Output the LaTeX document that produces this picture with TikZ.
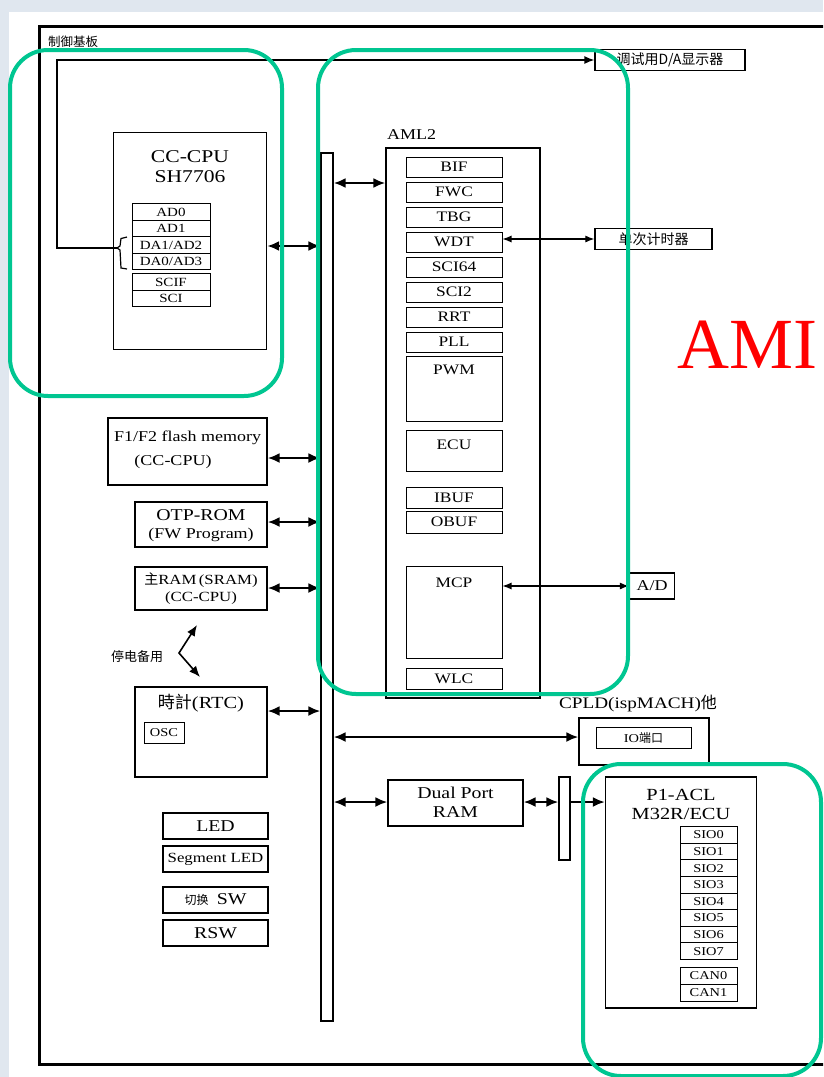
\documentclass[tikz,border=0pt]{standalone}
\usepackage{fontspec}
\setmainfont{Liberation Serif}[FakeStretch=1.2]
\newfontfamily\plainserif{Liberation Serif}
\newfontfamily\cjk{Noto Sans CJK SC}
\usetikzlibrary{arrows.meta}
\definecolor{hl}{RGB}{0,198,145}
\definecolor{bgc}{RGB}{224,231,239}
\newcommand\fz[1]{\fontsize{#1}{#1}\selectfont}
\begin{document}
\begin{tikzpicture}[x=1pt,y=-1pt,
  box/.style={draw, line width=1.3pt, inner sep=0pt, align=center},
  sb/.style={draw, line width=1pt, inner sep=0pt},
  txt/.style={inner sep=0pt, align=center},
  bus/.style={line width=2.2pt, {Latex[length=12pt,width=10pt]}-{Latex[length=12pt,width=10pt]}},
  thin/.style={line width=1.1pt, {Latex[length=9pt,width=7pt]}-{Latex[length=9pt,width=7pt]}},
  grp/.style={draw=hl, line width=4pt, rounded corners=38pt}]
\clip (0,0) rectangle (823,1077);
\useasboundingbox (0,0) rectangle (823,1077);
\fill[bgc] (0,0) rectangle (823,1077);
\fill[white] (9,12) rectangle (823,1077);
% outer frame
\draw[line width=3pt] (830,26) -- (39,26) -- (39,1064) -- (830,1064);
\node[txt, font=\cjk\fz{12.5}, anchor=west] (title) at (48,42) {制御基板};
% debug D/A box
\node[box, minimum width=150pt, minimum height=21pt, font=\cjk\fz{14}] (dbg) at (670,60) {调试用D/A显示器};
% CC-CPU
\node[box, minimum width=153pt, minimum height=217pt] (cpu) at (190,241) {};
\node[txt, font=\fz{18}] (cput1) at (190,157) {CC-CPU};
\node[txt, font=\fz{18}] (cput2) at (190,177) {SH7706};
\begin{scope}[every node/.style={sb, minimum width=78pt, minimum height=16.5pt, font=\fz{12.5}}]
\node (ad0) at (171,212) {AD0};
\node (ad1) at (171,228.5) {AD1};
\node (da1) at (171,245) {DA1/AD2};
\node (da0) at (171,261.5) {DA0/AD3};
\node (scif) at (171,282) {SCIF};
\node (sci) at (171,298.5) {SCI};
\end{scope}
% bracket and line to debug box
\draw[line width=1.2pt] (127,237) -- (121,238.5) -- (120,246) -- (117,248) -- (120,250) -- (121,268) -- (127,269);
\coordinate (brk) at (117,248);
\draw[line width=1.3pt, -{Latex[length=10pt,width=8pt]}] (brk) -- (57,248) -- (57,60) -- (dbg.west);
% main bus
\node[draw, line width=1.3pt, minimum width=12pt, minimum height=868pt, inner sep=0pt] (mbus) at (327,587) {};
\draw[bus] (cpu.east |- 0,246) -- (mbus.west |- 0,246);
% AML2
\node[txt, font=\fz{15}, anchor=west] (amllbl) at (387,135) {AML2};
\node[box, minimum width=154pt, minimum height=550pt] (aml) at (463,423) {};
\draw[bus] (mbus.east |- 0,183) -- (aml.west |- 0,183);
\begin{scope}[every node/.style={sb, minimum width=96pt, font=\fz{14.5}}]
\node[minimum height=20pt] (bif) at (454,167) {BIF};
\node[minimum height=20pt] (fwc) at (454,192) {FWC};
\node[minimum height=20pt] (tbg) at (454,217) {TBG};
\node[minimum height=20pt] (wdt) at (454,242) {WDT};
\node[minimum height=20pt] (sci64) at (454,267) {SCI64};
\node[minimum height=20pt] (sci2) at (454,292) {SCI2};
\node[minimum height=20pt] (rrt) at (454,317) {RRT};
\node[minimum height=20pt] (pll) at (454,342) {PLL};
\node[minimum height=65pt] (pwm) at (454,388.5) {};
\node[minimum height=41pt] (ecu) at (454,450.5) {};
\node[minimum height=21pt] (ibuf) at (454,498) {IBUF};
\node[minimum height=22pt] (obuf) at (454,522) {OBUF};
\node[minimum height=92pt] (mcp) at (454,612) {};
\node[minimum height=21pt] (wlc) at (454,679) {WLC};
\end{scope}
\node[txt, font=\fz{14.5}] (pwmt) at (454,370) {PWM};
\node[txt, font=\fz{14.5}] (ecut) at (454,445) {ECU};
\node[txt, font=\fz{14.5}] (mcpt) at (454,583) {MCP};
% single timer
\node[box, minimum width=117pt, minimum height=21pt, font=\cjk\fz{14}] (tmr) at (653.5,239) {单次计时器};
\draw[thin] (wdt.east |- 0,239) -- (tmr.west);
% A/D
\node[box, minimum width=45pt, minimum height=26pt, font=\fz{15}] (ad) at (652,586) {A/D};
\draw[thin] (mcp.east |- 0,586) -- (ad.west);
% memories
\node[box, minimum width=159pt, minimum height=67pt] (flash) at (187.5,451.5) {};
\node[txt, font=\fz{15}] (flt1) at (187.5,438) {F1/F2 flash memory};
\node[txt, font=\fz{15}] (flt2) at (173,462) {(CC-CPU)};
\draw[bus] (flash.east |- 0,458) -- (mbus.west |- 0,458);
\node[box, minimum width=132pt, minimum height=45pt] (otp) at (201,524.5) {};
\node[txt, font=\fz{16.5}] (otpt1) at (201,515) {OTP-ROM};
\node[txt, font=\fz{15}] (otpt2) at (201,535) {(FW Program)};
\draw[bus] (otp.east |- 0,522) -- (mbus.west |- 0,522);
\node[box, minimum width=132pt, minimum height=43pt] (ram) at (201,588.5) {};
\node[txt, font=\fz{14}] (ramt1) at (201,580) {{\cjk 主}RAM\,(SRAM)};
\node[txt, font=\fz{14}] (ramt2) at (201,598) {(CC-CPU)};
\draw[bus] (ram.east |- 0,588) -- (mbus.west |- 0,588);
% backup
\node[txt, font=\cjk\fz{13}] (bkp) at (137,657) {停电备用};
\coordinate (zt) at (197,625);
\coordinate (zc) at (179,653);
\coordinate (zb) at (200,677);
\draw[line width=1.6pt, {Latex[length=11pt,width=9pt]}-{Latex[length=11pt,width=9pt]}] (zt) -- (zc) -- (zb);
% RTC
\node[box, minimum width=132pt, minimum height=90pt] (rtc) at (201,732) {};
\node[txt, font=\fz{17}] (rtct) at (201,703) {{\cjk 時計}(RTC)};
\node[sb, minimum width=40pt, minimum height=21pt, font=\fz{12}] (osc) at (164,732.5) {OSC};
\draw[bus] (rtc.east |- 0,711) -- (mbus.west |- 0,711);
% CPLD
\node[txt, font=\fz{16}] (cpldt) at (638,703) {CPLD(ispMACH){\cjk 他}};
\node[box, minimum width=130pt, minimum height=47pt] (cpld) at (644,741.5) {};
\node[sb, minimum width=95pt, minimum height=21pt, font=\fz{12}] (io) at (643.5,737.5) {IO{\cjk 端口}};
\draw[bus] (mbus.east |- 0,737) -- (cpld.west |- 0,737);
% dual port RAM
\node[box, minimum width=135pt, minimum height=46pt] (dpr) at (455.5,803) {};
\node[txt, font=\fz{16.5}] (dprt1) at (455.5,793) {Dual Port};
\node[txt, font=\fz{16.5}] (dprt2) at (455.5,812) {RAM};
\draw[bus] (mbus.east |- 0,802) -- (dpr.west |- 0,802);
\node[draw, line width=1.3pt, minimum width=11pt, minimum height=83pt, inner sep=0pt] (sbar) at (564.5,818.5) {};
\draw[bus] (dpr.east |- 0,802) -- (sbar.west |- 0,802);
% P1-ACL
\node[box, minimum width=151pt, minimum height=231pt] (p1) at (681,892.5) {};
\draw[line width=2.2pt, -{Latex[length=12pt,width=10pt]}] (sbar.east |- 0,802) -- (p1.west |- 0,802);
\node[txt, font=\fz{17}] (p1t1) at (681,795) {P1-ACL};
\node[txt, font=\fz{17}] (p1t2) at (681,814) {M32R/ECU};
\foreach \i in {0,...,7}
  \node[sb, minimum width=57pt, minimum height=16.6pt, font=\fz{12}] (sio\i) at (708.5,{835+16.6*\i}) {SIO\i};
\node[sb, minimum width=57pt, minimum height=17pt, font=\fz{12}] (can0) at (708.5,975.5) {CAN0};
\node[sb, minimum width=57pt, minimum height=17pt, font=\fz{12}] (can1) at (708.5,992.5) {CAN1};
% LEDs / switches
\node[box, minimum width=105pt, minimum height=26pt, font=\fz{16.5}] (led) at (215.5,826) {LED};
\node[box, minimum width=105pt, minimum height=26pt, font=\fz{14}] (sled) at (215.5,859) {Segment LED};
\node[box, minimum width=105pt, minimum height=26pt, font=\fz{16.5}] (sw) at (215.5,900) {{\cjk\fz{12}切换}\enspace SW};
\node[box, minimum width=105pt, minimum height=26pt, font=\fz{16.5}] (rsw) at (215.5,933) {RSW};
% AMI
\node[txt, text=red, font=\plainserif\fz{72}, anchor=base west] (ami) at (677,368) {AMI};
% green highlight groups
\draw[grp] (10,50) rectangle (282,396);
\draw[grp] (318,50) rectangle (628,694);
\draw[grp] (583,764) rectangle (821,1076);
\end{tikzpicture}
\end{document}
